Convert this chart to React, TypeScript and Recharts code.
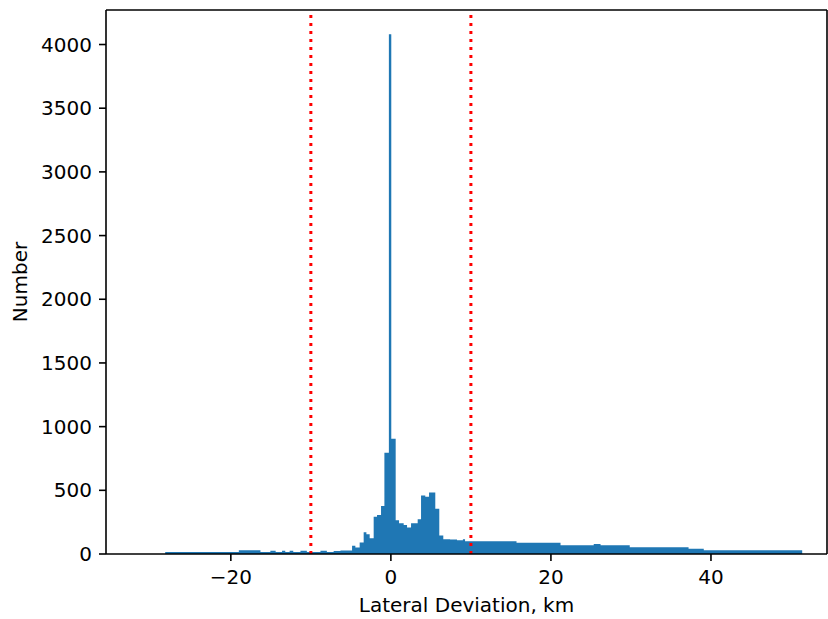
import { ComposedChart, Area, XAxis, YAxis, ReferenceLine } from 'recharts'

// histogram bins: left edges (last entry closes the final bin) and counts
const binEdges = [
  -28.2, -19.0, -16.3, -15.06, -14.4, -13.6, -13.2, -12.65, -12.2, -11.3, -10.5, -8.8, -8.0, -7.15, -6.3,
  -4.85, -4.44, -3.9, -3.4, -3.06, -2.65, -2.15, -1.73, -1.23, -0.81, -0.25, 0.05, 0.6, 1.02, 1.6, 2.02,
  2.52, 3.35, 3.77, 4.3, 4.77, 5.55, 6.05, 6.55, 7.4, 8.27, 9.0, 9.27, 15.7, 21.2, 25.35, 26.2, 29.85,
  37.2, 39.1, 51.4,
]
const binCounts = [
  15, 30, 15, 25, 15, 25, 15, 25, 15, 25, 15, 26, 15, 24, 28,
  65, 52, 90, 170, 155, 123, 293, 306, 377, 795, 4080, 905, 265, 241, 228,
  208, 241, 273, 460, 449, 482, 356, 146, 115, 113, 108, 116, 100, 89, 68, 79, 68,
  53, 42, 29,
]

const xTicks = [-20, 0, 20, 40]
const yTicks = [0, 500, 1000, 1500, 2000, 2500, 3000, 3500, 4000]
const limitLines = [-10, 10]

const xDomain: [number, number] = [-35.6, 54.5]
const yDomain: [number, number] = [0, 4271]

const data = binEdges.map((x, i) => ({ x, count: i < binCounts.length ? binCounts[i] : 0 }))

const font = { fontFamily: 'DejaVu Sans', fontSize: 20, fill: '#000' }
const fmtX = (v: number) => (v < 0 ? '\u2212' + Math.abs(v) : String(v))

export default function App() {
  return (
    <div style={{ position: 'absolute', left: 0, top: 0, background: '#fff' }}>
      <ComposedChart width={828} height={619} data={data} margin={{ top: 10, right: 1, left: 0, bottom: 0 }}>
        <XAxis
          dataKey="x"
          type="number"
          domain={xDomain}
          allowDataOverflow
          ticks={xTicks}
          tickFormatter={fmtX}
          height={65}
          tick={font}
          tickSize={7}
          tickMargin={9}
          axisLine={{ stroke: '#000', strokeWidth: 1.6 }}
          tickLine={{ stroke: '#000', strokeWidth: 1.6 }}
          label={{ value: 'Lateral Deviation, km', position: 'insideBottom', offset: 7, style: font }}
        />
        <YAxis
          type="number"
          domain={yDomain}
          allowDataOverflow
          ticks={yTicks}
          width={106}
          tick={font}
          tickSize={7}
          tickMargin={7}
          axisLine={{ stroke: '#000', strokeWidth: 1.6 }}
          tickLine={{ stroke: '#000', strokeWidth: 1.6 }}
          label={{ value: 'Number', angle: -90, position: 'insideLeft', offset: 20, style: { ...font, textAnchor: 'middle' } }}
        />
        <Area
          type="stepAfter"
          dataKey="count"
          fill="#1f77b4"
          fillOpacity={1}
          stroke="none"
          dot={false}
          activeDot={false}
          isAnimationActive={false}
        />
        {limitLines.map((v) => (
          <ReferenceLine key={v} x={v} stroke="#ff0000" strokeWidth={3} strokeDasharray="3 5" />
        ))}
        <ReferenceLine y={yDomain[1]} stroke="#000" strokeWidth={1.6} />
        <ReferenceLine x={xDomain[1]} stroke="#000" strokeWidth={1.6} />
      </ComposedChart>
    </div>
  )
}
